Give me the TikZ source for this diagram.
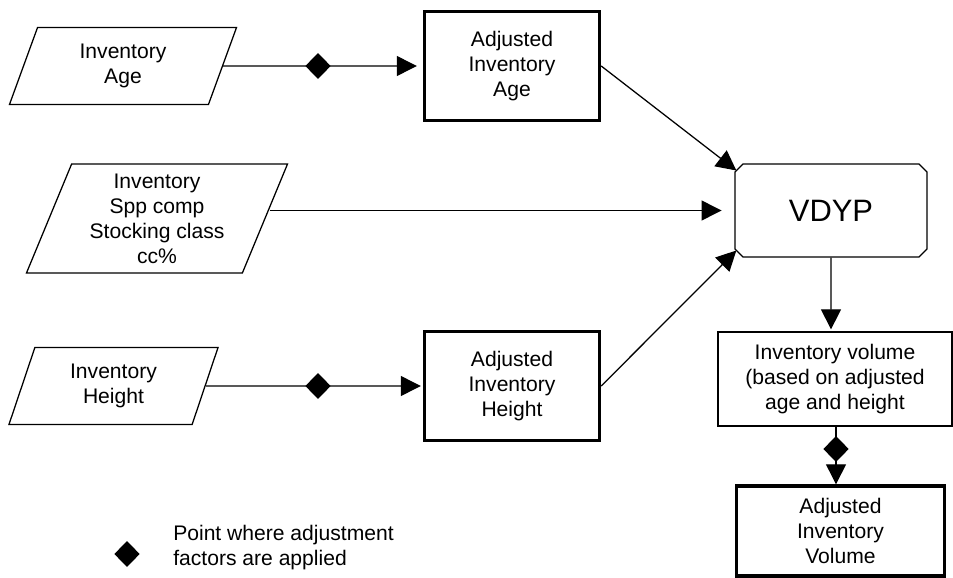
\documentclass[tikz,border=0pt]{standalone}
\usepackage{fontspec}
\setmainfont{Liberation Sans}
\usetikzlibrary{arrows.meta,shapes.geometric,shapes.misc}

\begin{document}
\begin{tikzpicture}[x=0.025cm, y=-0.025cm, font=\fontsize{15}{17.8}\selectfont,
  inv/.style={draw, line width=0.9pt, trapezium, trapezium stretches body, align=center, inner sep=1pt},
  adjbox/.style={draw, line width=2.4pt, rectangle, align=center, inner sep=1pt},
  plainbox/.style={draw, line width=0.9pt, rectangle, align=center, inner sep=1pt},
  adjpt/.style={diamond, fill=black, inner sep=0pt, minimum width=0.64cm, minimum height=0.65cm},
  feed/.style={line width=0.9pt, -{Triangle[length=0.5cm,width=0.5cm]}}]

  \useasboundingbox (0,0) rectangle (953,578);

  \node[inv, trapezium left angle=59, trapezium right angle=121,
    minimum width=5.675cm, minimum height=1.925cm] (iage) at (123,66) {Inventory\\Age};
  \node[inv, trapezium left angle=64, trapezium right angle=116,
    minimum width=6.525cm, minimum height=2.725cm] (ispp) at (157,218.5) {Inventory\\Spp comp\\Stocking class\\cc\%};
  \node[inv, trapezium left angle=61, trapezium right angle=119,
    minimum width=5.225cm, minimum height=1.925cm] (iheight) at (113.5,386) {Inventory\\Height};

  \node[adjbox, minimum width=4.375cm, minimum height=2.725cm] (aage) at (512,66) {Adjusted\\Inventory\\Age};
  \node[adjbox, minimum width=4.375cm, minimum height=2.725cm] (aheight) at (512,386) {Adjusted\\Inventory\\Height};

  \node[draw, line width=0.9pt, chamfered rectangle, chamfered rectangle xsep=0.1cm, chamfered rectangle ysep=0.1cm,
    minimum width=4.8cm, minimum height=2.325cm, font=\fontsize{22}{26}\selectfont] (vdyp) at (831,210.5) {VDYP};

  \node[plainbox, minimum width=5.85cm, minimum height=2.35cm] (ivol) at (835,379) {Inventory volume\\(based on adjusted\\age and height};
  \node[adjbox, minimum width=5.2cm, minimum height=2.25cm] (avol) at (840.5,531) {Adjusted\\Inventory\\Volume};

  \node[adjpt] (dage) at (318,66) {};
  \node[adjpt] (dheight) at (318,386) {};
  \node[adjpt] (dvol) at (836,449) {};

  \draw[feed, shorten >=0.15cm] (iage) -- (dage.center) -- (aage);
  \draw[feed, shorten >=0.05cm] (iheight) -- (dheight.center) -- (aheight);
  \draw[feed, shorten >=0.32cm] ([xshift=0.1cm]ispp.east |- vdyp.west) -- (vdyp.west);
  \draw[feed] (aage.east) -- ([shift={(2,-40)}]vdyp.west);
  \draw[feed] (aheight.east) -- ([shift={(2,40)}]vdyp.west);
  \draw[feed, shorten >=0.05cm] (vdyp) -- (vdyp |- ivol.north);
  \draw[feed] (ivol.south -| dvol) -- (dvol.center) -- (dvol |- avol.north);

  \node[adjpt] (key) at (127,554) {};
  \node[anchor=west, align=left, inner sep=0pt] (keytext) at (173,548) {Point where adjustment\\factors are applied};

\end{tikzpicture}
\end{document}
